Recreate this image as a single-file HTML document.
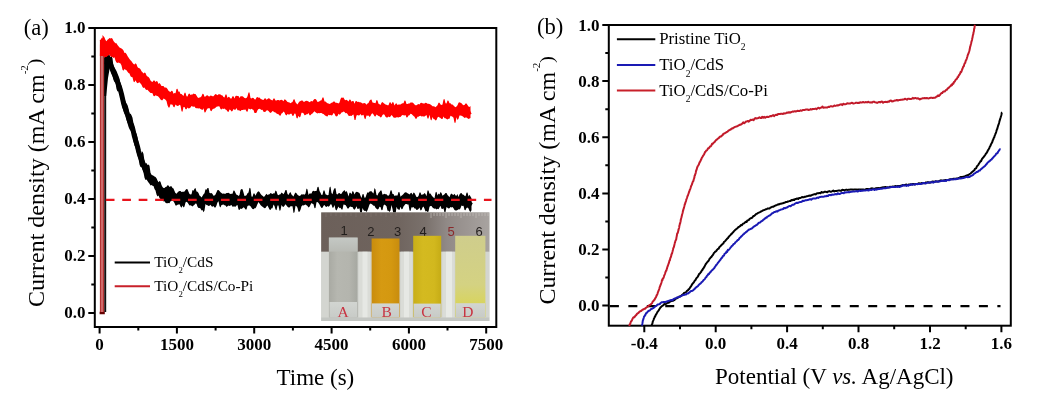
<!DOCTYPE html>
<html><head><meta charset="utf-8"><title>Figure</title>
<style>html,body{margin:0;padding:0;background:#fff;width:1051px;height:406px;overflow:hidden}svg{display:block}</style>
</head><body>
<svg width="1051" height="406" viewBox="0 0 1051 406">
<rect width="1051" height="406" fill="#fff"/>
<path d="M88.3 313.0H94.8 M88.3 256.0H94.8 M88.3 199.0H94.8 M88.3 142.0H94.8 M88.3 85.0H94.8 M88.3 28.0H94.8 M91.3 284.5H94.8 M91.3 227.5H94.8 M91.3 170.5H94.8 M91.3 113.5H94.8 M91.3 56.5H94.8 M99.6 327.0V333.5 M176.9 327.0V333.5 M254.2 327.0V333.5 M331.6 327.0V333.5 M408.9 327.0V333.5 M486.2 327.0V333.5 M138.3 327.0V330.5 M215.6 327.0V330.5 M292.9 327.0V330.5 M370.2 327.0V330.5 M447.5 327.0V330.5 M602.3 305.6H608.8 M602.3 249.5H608.8 M602.3 193.4H608.8 M602.3 137.2H608.8 M602.3 81.1H608.8 M602.3 25.0H608.8 M605.3 277.5H608.8 M605.3 221.4H608.8 M605.3 165.3H608.8 M605.3 109.2H608.8 M605.3 53.1H608.8 M644.3 325.7V332.2 M715.7 325.7V332.2 M787.1 325.7V332.2 M858.5 325.7V332.2 M930.0 325.7V332.2 M1001.4 325.7V332.2 M680.0 325.7V329.2 M751.4 325.7V329.2 M822.8 325.7V329.2 M894.2 325.7V329.2 M965.7 325.7V329.2" stroke="#000" stroke-width="2" fill="none"/>
<polygon points="106.5,57.3 107.5,53.9 108.5,53.1 109.5,55.1 110.5,58.7 111.5,55.6 112.5,58.6 113.5,66.5 114.5,67.6 115.5,69.2 116.5,71.1 117.5,73.6 118.5,76.1 119.5,78.7 120.5,83.5 121.5,86.3 122.5,90.4 123.5,95.2 124.5,98.9 125.5,101.6 126.5,103.5 127.5,104.9 128.5,108.6 129.5,114.6 130.5,113.6 131.5,115.3 132.5,117.7 133.5,123.6 134.5,128.8 135.5,132.7 136.5,133.6 137.5,136.9 138.5,142.9 139.5,147.5 140.5,151.1 141.5,153.6 142.5,151.2 143.5,154.1 144.5,161.1 145.5,163.7 146.5,163.0 147.5,164.9 148.5,164.5 149.5,165.7 150.5,172.8 151.5,174.7 152.5,175.3 153.5,175.7 154.5,176.5 155.5,176.9 156.5,178.3 157.5,180.4 158.5,182.3 159.5,181.1 160.5,181.8 161.5,185.0 162.5,187.1 163.5,188.0 164.5,188.0 165.5,186.9 166.5,186.8 167.5,185.3 168.5,185.4 169.5,186.9 170.5,186.3 171.5,186.2 172.5,187.9 173.5,188.6 174.5,191.1 175.5,193.3 176.5,193.7 177.5,192.6 178.5,191.5 179.5,191.0 180.5,191.1 181.5,192.0 182.5,191.7 183.5,191.8 184.5,191.5 185.5,190.1 186.5,189.1 187.5,189.2 188.5,191.7 189.5,194.0 190.5,194.4 191.5,194.3 192.5,190.0 193.5,190.7 194.5,188.8 195.5,188.1 196.5,191.4 197.5,191.8 198.5,193.0 199.5,195.5 200.5,196.2 201.5,197.4 202.5,196.1 203.5,194.3 204.5,193.3 205.5,189.3 206.5,189.8 207.5,188.1 208.5,187.9 209.5,193.1 210.5,193.2 211.5,193.1 212.5,194.0 213.5,195.7 214.5,195.6 215.5,194.4 216.5,192.3 217.5,190.0 218.5,190.1 219.5,190.9 220.5,192.2 221.5,193.0 222.5,193.7 223.5,193.6 224.5,193.7 225.5,193.8 226.5,193.1 227.5,192.9 228.5,192.8 229.5,193.4 230.5,194.1 231.5,193.7 232.5,193.8 233.5,190.4 234.5,190.7 235.5,193.0 236.5,194.8 237.5,194.9 238.5,195.9 239.5,194.9 240.5,190.0 241.5,189.1 242.5,189.2 243.5,192.6 244.5,196.1 245.5,195.7 246.5,195.3 247.5,193.3 248.5,192.5 249.5,187.7 250.5,188.4 251.5,196.4 252.5,196.7 253.5,193.6 254.5,193.6 255.5,195.7 256.5,193.5 257.5,191.9 258.5,191.3 259.5,191.9 260.5,193.7 261.5,195.0 262.5,195.8 263.5,196.7 264.5,196.5 265.5,195.0 266.5,193.8 267.5,194.9 268.5,194.5 269.5,194.2 270.5,193.0 271.5,193.5 272.5,194.1 273.5,193.2 274.5,193.5 275.5,190.5 276.5,191.3 277.5,194.5 278.5,195.2 279.5,194.4 280.5,194.3 281.5,192.6 282.5,193.2 283.5,194.2 284.5,192.6 285.5,189.9 286.5,189.9 287.5,193.9 288.5,195.1 289.5,193.0 290.5,192.1 291.5,194.4 292.5,195.5 293.5,196.6 294.5,194.0 295.5,192.6 296.5,193.2 297.5,194.8 298.5,195.5 299.5,196.0 300.5,195.4 301.5,194.3 302.5,194.6 303.5,194.2 304.5,194.8 305.5,193.5 306.5,188.6 307.5,189.6 308.5,194.9 309.5,193.6 310.5,193.4 311.5,193.5 312.5,191.2 313.5,190.8 314.5,191.3 315.5,191.0 316.5,191.0 317.5,187.0 318.5,186.8 319.5,190.9 320.5,192.8 321.5,194.9 322.5,194.8 323.5,190.4 324.5,190.4 325.5,194.3 326.5,194.8 327.5,195.2 328.5,195.0 329.5,187.6 330.5,186.5 331.5,192.9 332.5,194.2 333.5,190.3 334.5,188.2 335.5,188.3 336.5,194.1 337.5,194.4 338.5,193.3 339.5,192.9 340.5,194.1 341.5,193.8 342.5,192.0 343.5,191.0 344.5,190.1 345.5,191.9 346.5,191.1 347.5,192.9 348.5,196.5 349.5,192.8 350.5,192.7 351.5,194.3 352.5,191.1 353.5,191.8 354.5,194.4 355.5,192.5 356.5,191.7 357.5,192.1 358.5,192.5 359.5,192.9 360.5,195.8 361.5,197.9 362.5,194.2 363.5,193.9 364.5,197.8 365.5,197.5 366.5,194.5 367.5,192.2 368.5,192.7 369.5,191.5 370.5,191.2 371.5,191.2 372.5,192.4 373.5,193.4 374.5,188.1 375.5,189.6 376.5,195.1 377.5,195.6 378.5,193.0 379.5,191.9 380.5,190.6 381.5,190.4 382.5,194.7 383.5,194.2 384.5,193.8 385.5,194.3 386.5,194.3 387.5,195.5 388.5,195.8 389.5,194.5 390.5,190.5 391.5,190.3 392.5,193.9 393.5,194.1 394.5,196.0 395.5,195.5 396.5,195.6 397.5,195.6 398.5,191.9 399.5,192.2 400.5,196.8 401.5,195.7 402.5,194.9 403.5,193.9 404.5,192.7 405.5,192.3 406.5,192.4 407.5,193.3 408.5,193.7 409.5,194.6 410.5,193.3 411.5,192.8 412.5,194.7 413.5,192.6 414.5,193.0 415.5,195.1 416.5,197.1 417.5,196.9 418.5,195.9 419.5,192.5 420.5,192.4 421.5,195.1 422.5,194.6 423.5,194.3 424.5,192.9 425.5,194.1 426.5,196.3 427.5,190.6 428.5,190.4 429.5,193.8 430.5,193.6 431.5,195.2 432.5,196.6 433.5,197.4 434.5,198.3 435.5,192.4 436.5,191.7 437.5,195.4 438.5,193.5 439.5,194.4 440.5,192.0 441.5,193.1 442.5,195.7 443.5,194.9 444.5,194.3 445.5,193.1 446.5,193.0 447.5,195.1 448.5,195.9 449.5,197.3 450.5,194.5 451.5,193.6 452.5,194.5 453.5,194.9 454.5,193.7 455.5,195.6 456.5,195.7 457.5,194.1 458.5,197.0 459.5,194.5 460.5,193.3 461.5,193.1 462.5,194.5 463.5,194.7 464.5,195.7 465.5,196.2 466.5,192.8 467.5,192.6 468.5,196.6 469.5,194.8 470.5,196.4 471.5,198.3 471.5,210.2 470.5,212.1 469.5,211.0 468.5,208.6 467.5,207.4 466.5,207.9 465.5,210.3 464.5,210.1 463.5,205.8 462.5,205.9 461.5,205.6 460.5,208.2 459.5,209.4 458.5,209.2 457.5,210.1 456.5,210.6 455.5,210.4 454.5,210.0 453.5,208.2 452.5,206.9 451.5,207.6 450.5,207.0 449.5,208.3 448.5,208.5 447.5,207.8 446.5,207.1 445.5,212.0 444.5,212.6 443.5,208.2 442.5,209.0 441.5,208.7 440.5,205.8 439.5,207.6 438.5,209.2 437.5,208.7 436.5,209.6 435.5,208.6 434.5,208.7 433.5,208.2 432.5,207.4 431.5,206.0 430.5,206.1 429.5,206.8 428.5,211.6 427.5,212.0 426.5,210.9 425.5,211.5 424.5,208.8 423.5,206.6 422.5,207.4 421.5,209.9 420.5,210.5 419.5,207.4 418.5,209.0 417.5,209.8 416.5,209.9 415.5,208.6 414.5,208.4 413.5,207.0 412.5,207.4 411.5,207.2 410.5,210.9 409.5,210.6 408.5,204.4 407.5,204.4 406.5,203.9 405.5,204.1 404.5,205.2 403.5,206.5 402.5,208.9 401.5,209.2 400.5,206.8 399.5,209.9 398.5,209.6 397.5,208.9 396.5,206.8 395.5,215.1 394.5,215.5 393.5,214.4 392.5,208.9 391.5,205.1 390.5,210.6 389.5,211.9 388.5,210.8 387.5,210.8 386.5,206.2 385.5,205.3 384.5,204.5 383.5,205.5 382.5,210.0 381.5,210.2 380.5,207.1 379.5,206.7 378.5,209.0 377.5,209.4 376.5,208.8 375.5,207.8 374.5,205.8 373.5,205.7 372.5,204.8 371.5,203.9 370.5,203.6 369.5,204.6 368.5,207.5 367.5,210.2 366.5,211.9 365.5,210.8 364.5,210.9 363.5,210.0 362.5,208.0 361.5,215.2 360.5,214.4 359.5,208.2 358.5,208.7 357.5,209.0 356.5,206.3 355.5,208.6 354.5,209.8 353.5,208.9 352.5,207.0 351.5,207.1 350.5,206.6 349.5,207.0 348.5,208.6 347.5,208.6 346.5,206.6 345.5,204.9 344.5,204.7 343.5,204.5 342.5,209.4 341.5,209.5 340.5,207.7 339.5,208.3 338.5,206.5 337.5,208.4 336.5,210.6 335.5,209.5 334.5,205.1 333.5,207.6 332.5,207.7 331.5,204.5 330.5,204.3 329.5,206.0 328.5,206.7 327.5,205.9 326.5,207.1 325.5,206.5 324.5,204.9 323.5,205.7 322.5,207.7 321.5,207.9 320.5,206.5 319.5,204.5 318.5,203.0 317.5,202.1 316.5,202.3 315.5,207.9 314.5,208.3 313.5,204.3 312.5,203.7 311.5,203.1 310.5,204.7 309.5,206.7 308.5,207.5 307.5,206.0 306.5,205.2 305.5,204.4 304.5,205.1 303.5,205.5 302.5,205.3 301.5,206.3 300.5,209.7 299.5,211.7 298.5,211.7 297.5,207.8 296.5,206.3 295.5,205.8 294.5,212.3 293.5,212.9 292.5,206.3 291.5,206.2 290.5,206.2 289.5,207.4 288.5,207.5 287.5,206.7 286.5,205.4 285.5,204.2 284.5,205.7 283.5,206.9 282.5,206.6 281.5,204.9 280.5,210.3 279.5,210.8 278.5,205.4 277.5,205.5 276.5,210.3 275.5,209.4 274.5,206.0 273.5,204.4 272.5,208.3 271.5,208.3 270.5,209.9 269.5,209.6 268.5,207.6 267.5,205.4 266.5,206.5 265.5,207.9 264.5,208.3 263.5,207.4 262.5,206.7 261.5,206.0 260.5,204.9 259.5,203.5 258.5,201.9 257.5,204.1 256.5,206.5 255.5,208.2 254.5,208.3 253.5,209.2 252.5,209.1 251.5,207.8 250.5,206.2 249.5,205.5 248.5,205.6 247.5,205.9 246.5,209.5 245.5,209.5 244.5,207.9 243.5,207.2 242.5,208.2 241.5,208.9 240.5,208.5 239.5,209.9 238.5,209.6 237.5,205.1 236.5,205.6 235.5,206.7 234.5,206.4 233.5,206.6 232.5,206.7 231.5,205.1 230.5,205.6 229.5,206.0 228.5,205.5 227.5,206.3 226.5,207.0 225.5,205.5 224.5,205.3 223.5,204.4 222.5,204.7 221.5,205.1 220.5,207.4 219.5,206.2 218.5,201.2 217.5,202.3 216.5,205.5 215.5,207.4 214.5,207.6 213.5,206.1 212.5,206.7 211.5,206.2 210.5,204.7 209.5,205.7 208.5,206.1 207.5,205.3 206.5,204.9 205.5,204.1 204.5,210.6 203.5,212.3 202.5,210.1 201.5,210.5 200.5,208.4 199.5,208.1 198.5,207.9 197.5,206.8 196.5,203.8 195.5,203.5 194.5,204.7 193.5,205.5 192.5,206.5 191.5,205.7 190.5,205.2 189.5,205.4 188.5,204.0 187.5,202.5 186.5,201.8 185.5,202.6 184.5,206.6 183.5,207.4 182.5,205.4 181.5,207.7 180.5,206.5 179.5,204.3 178.5,204.4 177.5,204.7 176.5,205.4 175.5,205.4 174.5,203.1 173.5,201.6 172.5,199.8 171.5,201.1 170.5,201.2 169.5,203.3 168.5,203.0 167.5,203.3 166.5,203.3 165.5,202.7 164.5,201.3 163.5,201.5 162.5,199.5 161.5,199.7 160.5,199.0 159.5,198.0 158.5,195.4 157.5,196.4 156.5,194.6 155.5,190.5 154.5,189.0 153.5,186.1 152.5,185.7 151.5,185.0 150.5,185.4 149.5,183.7 148.5,182.4 147.5,181.0 146.5,179.5 145.5,180.0 144.5,177.8 143.5,172.4 142.5,169.4 141.5,166.9 140.5,167.1 139.5,164.5 138.5,158.8 137.5,155.3 136.5,151.4 135.5,147.2 134.5,145.6 133.5,141.3 132.5,134.3 131.5,132.5 130.5,130.5 129.5,129.3 128.5,126.8 127.5,123.3 126.5,119.7 125.5,115.7 124.5,113.9 123.5,111.6 122.5,107.3 121.5,101.9 120.5,97.9 119.5,93.6 118.5,90.7 117.5,91.5 116.5,88.9 115.5,83.0 114.5,82.0 113.5,80.1 112.5,75.9 111.5,72.6 110.5,71.1 109.5,68.8 108.5,64.6 107.5,67.5 106.5,72.0" fill="#000"/>
<polyline points="106.5,64.6 107.5,60.7 108.5,59.0 109.5,62.0 110.5,64.4 111.5,66.6 112.5,69.8 113.5,72.7 114.5,74.8 115.5,76.8 116.5,79.2 117.5,81.8 118.5,84.3 119.5,87.1 120.5,90.4 121.5,94.1 122.5,98.5 123.5,103.0 124.5,106.6 125.5,109.0 126.5,111.2 127.5,114.4 128.5,118.0 129.5,120.9 130.5,123.1 131.5,124.9 132.5,127.8 133.5,132.1 134.5,136.6 135.5,140.1 136.5,143.1 137.5,146.7 138.5,150.8 139.5,154.5 140.5,157.4 141.5,159.8 142.5,162.1 143.5,165.1 144.5,168.0 145.5,170.4 146.5,172.4 147.5,174.2 148.5,175.7 149.5,177.0 150.5,178.6 151.5,180.0 152.5,180.7 153.5,181.1 154.5,181.8 155.5,183.1 156.5,184.7 157.5,186.5 158.5,188.1 159.5,188.9 160.5,189.7 161.5,191.1 162.5,192.7 163.5,193.8 164.5,193.7 165.5,193.3 166.5,193.0 167.5,193.0 168.5,193.2 169.5,193.5 170.5,193.8 171.5,193.6 172.5,193.7 173.5,194.9 174.5,197.1 175.5,198.7 176.5,199.0 177.5,198.3 178.5,197.5 179.5,197.4 180.5,198.0 181.5,199.1 182.5,200.2 183.5,200.3 184.5,198.9 185.5,197.2 186.5,196.2 187.5,196.6 188.5,198.0 189.5,199.1 190.5,199.2 191.5,199.1 192.5,199.7 193.5,200.1 194.5,199.5 195.5,198.6 196.5,198.8 197.5,199.9 198.5,201.1 199.5,202.0 200.5,202.5 201.5,202.5 202.5,201.7 203.5,200.1 204.5,198.7 205.5,198.5 206.5,199.2 207.5,199.7 208.5,199.6 209.5,199.3 210.5,199.6 211.5,200.5 212.5,201.1 213.5,201.2 214.5,201.3 215.5,200.7 216.5,198.8 217.5,197.1 218.5,196.7 219.5,197.4 220.5,198.5 221.5,199.5 222.5,199.8 223.5,199.5 224.5,199.6 225.5,199.8 226.5,199.4 227.5,198.8 228.5,198.9 229.5,199.4 230.5,199.6 231.5,199.3 232.5,198.8 233.5,198.8 234.5,199.3 235.5,199.7 236.5,199.7 237.5,200.1 238.5,201.2 239.5,201.9 240.5,201.7 241.5,200.8 242.5,200.3 243.5,200.4 244.5,201.0 245.5,201.7 246.5,201.5 247.5,200.4 248.5,199.3 249.5,199.2 250.5,200.2 251.5,201.3 252.5,201.8 253.5,202.1 254.5,202.2 255.5,201.5 256.5,199.7 257.5,197.6 258.5,197.0 259.5,198.1 260.5,199.5 261.5,200.6 262.5,201.3 263.5,202.1 264.5,202.5 265.5,201.7 266.5,200.5 267.5,199.7 268.5,199.6 269.5,199.5 270.5,199.7 271.5,200.0 272.5,199.9 273.5,199.2 274.5,198.6 275.5,199.0 276.5,199.8 277.5,200.5 278.5,200.4 279.5,199.7 280.5,199.4 281.5,199.5 282.5,200.0 283.5,199.7 284.5,198.3 285.5,197.2 286.5,197.9 287.5,199.9 288.5,201.3 289.5,200.9 290.5,199.9 291.5,200.1 292.5,201.4 293.5,202.0 294.5,200.8 295.5,199.1 296.5,199.4 297.5,201.4 298.5,203.2 299.5,203.4 300.5,202.1 301.5,200.9 302.5,200.2 303.5,199.6 304.5,199.3 305.5,199.5 306.5,200.3 307.5,201.1 308.5,200.9 309.5,199.8 310.5,198.7 311.5,198.1 312.5,198.1 313.5,197.8 314.5,197.3 315.5,197.0 316.5,196.8 317.5,196.4 318.5,196.3 319.5,197.3 320.5,199.4 321.5,201.1 322.5,200.9 323.5,199.8 324.5,199.4 325.5,199.8 326.5,200.4 327.5,200.9 328.5,200.8 329.5,199.8 330.5,198.4 331.5,198.4 332.5,199.2 333.5,199.2 334.5,198.6 335.5,198.9 336.5,199.9 337.5,200.5 338.5,200.7 339.5,200.4 340.5,199.7 341.5,199.0 342.5,199.0 343.5,199.2 344.5,198.5 345.5,198.1 346.5,199.3 347.5,200.9 348.5,201.3 349.5,201.1 350.5,201.0 351.5,201.5 352.5,202.1 353.5,202.6 354.5,202.2 355.5,200.9 356.5,200.0 357.5,199.2 358.5,198.9 359.5,199.9 360.5,202.1 361.5,203.5 362.5,203.0 363.5,202.4 364.5,203.1 365.5,203.8 366.5,203.1 367.5,201.1 368.5,199.3 369.5,197.8 370.5,197.2 371.5,197.5 372.5,198.4 373.5,199.4 374.5,200.3 375.5,201.9 376.5,203.2 377.5,203.4 378.5,202.7 379.5,201.5 380.5,200.9 381.5,200.6 382.5,200.3 383.5,199.8 384.5,199.1 385.5,199.7 386.5,201.0 387.5,201.7 388.5,201.3 389.5,200.1 390.5,199.1 391.5,198.9 392.5,200.4 393.5,202.9 394.5,204.0 395.5,203.0 396.5,201.6 397.5,201.2 398.5,201.7 399.5,202.0 400.5,202.1 401.5,202.0 402.5,201.4 403.5,200.4 404.5,199.3 405.5,198.6 406.5,198.6 407.5,198.9 408.5,199.4 409.5,200.1 410.5,200.6 411.5,200.4 412.5,199.6 413.5,199.2 414.5,200.5 415.5,202.5 416.5,203.6 417.5,203.5 418.5,202.6 419.5,201.9 420.5,201.8 421.5,201.0 422.5,200.2 423.5,201.0 424.5,202.6 425.5,203.3 426.5,202.2 427.5,201.2 428.5,200.9 429.5,200.3 430.5,199.9 431.5,200.3 432.5,201.6 433.5,202.7 434.5,203.5 435.5,203.9 436.5,203.6 437.5,202.3 438.5,200.3 439.5,199.4 440.5,200.0 441.5,201.1 442.5,201.8 443.5,201.6 444.5,201.0 445.5,200.5 446.5,200.3 447.5,200.7 448.5,201.6 449.5,202.3 450.5,202.2 451.5,201.4 452.5,201.0 453.5,201.5 454.5,203.0 455.5,204.7 456.5,205.5 457.5,204.6 458.5,202.7 459.5,201.2 460.5,200.2 461.5,199.8 462.5,199.9 463.5,200.6 464.5,201.5 465.5,202.0 466.5,201.7 467.5,201.3 468.5,202.0 469.5,203.4 470.5,204.7 471.5,205.3" fill="none" stroke="#000" stroke-width="5" stroke-linejoin="round"/>
<path d="M105.2 58V312" stroke="#111" stroke-width="2"/>
<path d="M104.2 96L104.2 57L107.5 53.5L111.5 58L108 78L106.2 96Z" fill="#000"/>
<polygon points="102.5,34.9 103.5,36.2 104.5,37.6 105.5,40.0 106.5,41.2 107.5,39.8 108.5,38.9 109.5,38.1 110.5,38.6 111.5,38.1 112.5,38.7 113.5,41.1 114.5,42.2 115.5,43.3 116.5,43.2 117.5,44.9 118.5,46.3 119.5,47.4 120.5,47.9 121.5,48.6 122.5,49.3 123.5,50.6 124.5,53.1 125.5,52.8 126.5,53.9 127.5,56.0 128.5,57.6 129.5,59.0 130.5,60.3 131.5,61.2 132.5,62.8 133.5,63.9 134.5,64.5 135.5,63.2 136.5,64.2 137.5,66.9 138.5,68.0 139.5,68.2 140.5,69.2 141.5,71.2 142.5,72.2 143.5,73.4 144.5,72.5 145.5,73.1 146.5,75.5 147.5,76.4 148.5,77.0 149.5,78.2 150.5,80.5 151.5,81.4 152.5,82.0 153.5,80.4 154.5,80.6 155.5,82.0 156.5,80.9 157.5,81.4 158.5,83.9 159.5,83.0 160.5,84.2 161.5,86.1 162.5,86.0 163.5,85.9 164.5,87.5 165.5,87.4 166.5,87.8 167.5,89.1 168.5,90.8 169.5,91.5 170.5,92.1 171.5,90.8 172.5,91.1 173.5,93.8 174.5,93.0 175.5,93.2 176.5,89.0 177.5,88.8 178.5,91.7 179.5,91.6 180.5,93.9 181.5,94.1 182.5,94.9 183.5,96.1 184.5,92.7 185.5,92.7 186.5,96.2 187.5,96.4 188.5,93.9 189.5,93.4 190.5,95.1 191.5,94.4 192.5,94.4 193.5,93.4 194.5,93.9 195.5,94.0 196.5,95.5 197.5,97.2 198.5,97.9 199.5,97.6 200.5,97.2 201.5,96.3 202.5,93.8 203.5,94.0 204.5,96.8 205.5,96.6 206.5,95.6 207.5,95.3 208.5,96.2 209.5,96.6 210.5,95.4 211.5,95.8 212.5,96.2 213.5,96.3 214.5,94.9 215.5,94.1 216.5,94.6 217.5,95.3 218.5,94.3 219.5,94.2 220.5,94.6 221.5,95.2 222.5,95.5 223.5,97.1 224.5,97.5 225.5,94.4 226.5,94.5 227.5,97.9 228.5,96.8 229.5,97.2 230.5,98.5 231.5,98.5 232.5,96.3 233.5,96.3 234.5,98.4 235.5,96.1 236.5,95.7 237.5,96.1 238.5,96.1 239.5,97.9 240.5,96.3 241.5,96.2 242.5,96.2 243.5,97.1 244.5,98.0 245.5,98.2 246.5,97.9 247.5,96.3 248.5,92.6 249.5,92.6 250.5,98.0 251.5,98.4 252.5,97.7 253.5,98.1 254.5,99.2 255.5,99.5 256.5,97.5 257.5,97.1 258.5,97.7 259.5,97.6 260.5,98.8 261.5,99.2 262.5,99.7 263.5,100.1 264.5,98.5 265.5,98.3 266.5,99.7 267.5,99.1 268.5,98.2 269.5,98.5 270.5,99.5 271.5,100.1 272.5,100.6 273.5,98.6 274.5,98.6 275.5,100.4 276.5,100.5 277.5,99.9 278.5,99.9 279.5,100.4 280.5,99.9 281.5,99.7 282.5,100.2 283.5,101.3 284.5,99.3 285.5,99.7 286.5,100.7 287.5,101.9 288.5,102.2 289.5,102.4 290.5,103.3 291.5,102.5 292.5,102.1 293.5,99.4 294.5,99.3 295.5,102.2 296.5,103.4 297.5,104.5 298.5,102.7 299.5,101.6 300.5,101.0 301.5,100.5 302.5,100.6 303.5,101.7 304.5,101.8 305.5,101.0 306.5,100.7 307.5,101.1 308.5,101.6 309.5,102.2 310.5,101.6 311.5,101.1 312.5,101.5 313.5,100.0 314.5,99.1 315.5,99.1 316.5,100.0 317.5,102.1 318.5,101.8 319.5,101.2 320.5,100.6 321.5,100.3 322.5,97.5 323.5,97.6 324.5,101.4 325.5,101.5 326.5,102.4 327.5,103.2 328.5,103.4 329.5,103.9 330.5,103.4 331.5,102.7 332.5,102.4 333.5,101.5 334.5,101.6 335.5,102.7 336.5,102.7 337.5,103.1 338.5,103.5 339.5,102.5 340.5,99.0 341.5,97.6 342.5,97.7 343.5,97.6 344.5,99.4 345.5,100.3 346.5,99.7 347.5,100.5 348.5,101.6 349.5,99.4 350.5,99.7 351.5,101.8 352.5,101.0 353.5,101.0 354.5,103.8 355.5,101.3 356.5,101.0 357.5,102.0 358.5,101.8 359.5,102.2 360.5,102.2 361.5,102.8 362.5,103.4 363.5,103.2 364.5,102.9 365.5,103.6 366.5,104.8 367.5,103.5 368.5,103.0 369.5,100.8 370.5,99.7 371.5,99.5 372.5,102.4 373.5,102.8 374.5,103.0 375.5,103.3 376.5,100.0 377.5,100.5 378.5,103.7 379.5,104.3 380.5,104.9 381.5,102.8 382.5,102.1 383.5,103.0 384.5,103.7 385.5,104.4 386.5,104.7 387.5,105.3 388.5,105.2 389.5,102.5 390.5,102.2 391.5,104.2 392.5,102.1 393.5,102.6 394.5,105.4 395.5,103.8 396.5,103.3 397.5,104.9 398.5,104.4 399.5,104.6 400.5,104.6 401.5,103.8 402.5,103.3 403.5,103.2 404.5,100.4 405.5,100.7 406.5,104.1 407.5,103.9 408.5,103.4 409.5,103.4 410.5,102.6 411.5,102.6 412.5,102.6 413.5,103.2 414.5,104.4 415.5,105.3 416.5,105.3 417.5,104.6 418.5,104.1 419.5,104.4 420.5,102.9 421.5,102.8 422.5,103.3 423.5,103.6 424.5,103.6 425.5,102.8 426.5,103.0 427.5,103.7 428.5,103.7 429.5,104.0 430.5,104.4 431.5,105.2 432.5,106.3 433.5,106.2 434.5,106.6 435.5,107.2 436.5,106.3 437.5,105.2 438.5,102.7 439.5,102.7 440.5,104.5 441.5,105.0 442.5,104.5 443.5,99.5 444.5,99.1 445.5,103.3 446.5,103.6 447.5,100.5 448.5,100.8 449.5,103.2 450.5,103.2 451.5,104.4 452.5,104.6 453.5,105.6 454.5,106.4 455.5,107.3 456.5,106.4 457.5,105.2 458.5,102.8 459.5,102.3 460.5,102.8 461.5,103.3 462.5,104.4 463.5,105.3 464.5,104.9 465.5,103.5 466.5,103.4 467.5,104.9 468.5,106.5 469.5,107.0 470.5,105.9 470.5,118.1 469.5,118.5 468.5,119.1 467.5,118.2 466.5,117.6 465.5,117.5 464.5,118.1 463.5,117.0 462.5,116.3 461.5,115.7 460.5,115.6 459.5,115.5 458.5,118.7 457.5,120.0 456.5,117.2 455.5,122.8 454.5,122.8 453.5,117.7 452.5,116.7 451.5,116.2 450.5,115.7 449.5,118.8 448.5,118.8 447.5,119.4 446.5,119.0 445.5,118.2 444.5,118.3 443.5,116.4 442.5,119.0 441.5,119.0 440.5,118.1 439.5,117.4 438.5,116.7 437.5,117.6 436.5,119.9 435.5,120.4 434.5,119.3 433.5,119.1 432.5,117.0 431.5,120.5 430.5,119.6 429.5,114.7 428.5,118.6 427.5,118.4 426.5,114.9 425.5,115.8 424.5,116.4 423.5,116.5 422.5,116.3 421.5,116.4 420.5,115.7 419.5,116.1 418.5,116.7 417.5,116.8 416.5,118.7 415.5,118.8 414.5,116.7 413.5,116.1 412.5,114.9 411.5,114.0 410.5,113.8 409.5,115.2 408.5,115.6 407.5,117.3 406.5,117.4 405.5,114.9 404.5,115.6 403.5,115.3 402.5,114.9 401.5,115.7 400.5,116.9 399.5,116.9 398.5,117.6 397.5,117.2 396.5,117.2 395.5,117.7 394.5,117.7 393.5,117.6 392.5,116.1 391.5,115.1 390.5,116.6 389.5,117.2 388.5,116.6 387.5,117.6 386.5,117.6 385.5,116.7 384.5,114.8 383.5,114.3 382.5,115.1 381.5,117.1 380.5,117.5 379.5,116.2 378.5,115.9 377.5,115.3 376.5,114.4 375.5,116.5 374.5,116.3 373.5,114.6 372.5,113.3 371.5,114.1 370.5,116.0 369.5,117.1 368.5,115.4 367.5,115.8 366.5,115.6 365.5,119.3 364.5,118.4 363.5,114.8 362.5,115.2 361.5,115.4 360.5,114.0 359.5,115.2 358.5,115.4 357.5,115.1 356.5,115.4 355.5,120.1 354.5,120.0 353.5,114.5 352.5,114.9 351.5,116.0 350.5,115.7 349.5,115.9 348.5,115.7 347.5,114.0 346.5,113.0 345.5,113.3 344.5,112.0 343.5,111.6 342.5,112.3 341.5,112.6 340.5,114.1 339.5,114.7 338.5,113.7 337.5,116.0 336.5,116.5 335.5,116.1 334.5,113.7 333.5,112.9 332.5,114.9 331.5,115.4 330.5,115.0 329.5,115.3 328.5,114.7 327.5,116.6 326.5,116.3 325.5,115.8 324.5,114.9 323.5,114.1 322.5,113.7 321.5,113.1 320.5,113.1 319.5,113.2 318.5,113.1 317.5,113.5 316.5,112.9 315.5,112.3 314.5,111.3 313.5,112.3 312.5,113.4 311.5,113.9 310.5,115.2 309.5,115.2 308.5,113.0 307.5,114.2 306.5,114.3 305.5,115.0 304.5,115.3 303.5,113.3 302.5,112.8 301.5,112.8 300.5,116.4 299.5,117.6 298.5,115.7 297.5,118.5 296.5,118.0 295.5,113.8 294.5,113.5 293.5,115.7 292.5,116.1 291.5,113.7 290.5,113.7 289.5,114.5 288.5,114.4 287.5,113.9 286.5,115.4 285.5,114.7 284.5,112.6 283.5,111.6 282.5,113.1 281.5,113.6 280.5,115.8 279.5,115.5 278.5,114.3 277.5,113.9 276.5,113.4 275.5,112.5 274.5,112.3 273.5,111.5 272.5,110.9 271.5,112.2 270.5,112.9 269.5,112.3 268.5,111.0 267.5,110.3 266.5,110.6 265.5,111.8 264.5,111.9 263.5,111.8 262.5,109.8 261.5,109.9 260.5,109.3 259.5,108.7 258.5,109.1 257.5,110.3 256.5,112.7 255.5,113.0 254.5,113.1 253.5,110.1 252.5,109.5 251.5,108.8 250.5,109.4 249.5,109.1 248.5,108.6 247.5,111.7 246.5,111.6 245.5,109.4 244.5,109.8 243.5,109.8 242.5,109.9 241.5,109.9 240.5,111.2 239.5,110.4 238.5,110.3 237.5,110.2 236.5,108.1 235.5,109.8 234.5,109.8 233.5,109.1 232.5,111.0 231.5,111.6 230.5,110.0 229.5,109.6 228.5,111.9 227.5,111.5 226.5,109.9 225.5,109.6 224.5,108.6 223.5,109.1 222.5,108.6 221.5,109.4 220.5,109.1 219.5,106.5 218.5,106.2 217.5,106.4 216.5,106.7 215.5,107.7 214.5,108.4 213.5,108.8 212.5,109.3 211.5,111.2 210.5,110.8 209.5,107.9 208.5,108.3 207.5,108.6 206.5,109.9 205.5,112.2 204.5,112.4 203.5,108.3 202.5,109.9 201.5,109.6 200.5,109.0 199.5,108.2 198.5,108.5 197.5,108.3 196.5,108.3 195.5,108.1 194.5,106.6 193.5,106.7 192.5,106.5 191.5,106.0 190.5,107.5 189.5,108.3 188.5,108.5 187.5,107.5 186.5,109.3 185.5,109.2 184.5,106.9 183.5,106.9 182.5,111.8 181.5,111.2 180.5,105.5 179.5,104.8 178.5,105.8 177.5,106.0 176.5,105.4 175.5,104.6 174.5,107.3 173.5,107.1 172.5,104.7 171.5,104.6 170.5,104.3 169.5,107.6 168.5,107.4 167.5,105.3 166.5,101.1 165.5,99.8 164.5,99.0 163.5,98.6 162.5,100.3 161.5,100.3 160.5,99.5 159.5,98.0 158.5,96.8 157.5,96.0 156.5,95.7 155.5,95.2 154.5,96.3 153.5,96.1 152.5,93.3 151.5,92.9 150.5,93.0 149.5,92.0 148.5,90.9 147.5,89.7 146.5,89.9 145.5,89.2 144.5,87.6 143.5,87.9 142.5,87.0 141.5,84.7 140.5,83.4 139.5,82.3 138.5,82.8 137.5,83.2 136.5,82.2 135.5,80.3 134.5,82.2 133.5,81.6 132.5,77.2 131.5,77.0 130.5,76.2 129.5,73.5 128.5,73.0 127.5,71.7 126.5,70.3 125.5,69.8 124.5,68.9 123.5,70.8 122.5,69.8 121.5,65.5 120.5,63.5 119.5,63.0 118.5,62.6 117.5,63.1 116.5,62.5 115.5,60.8 114.5,57.2 113.5,58.1 112.5,57.0 111.5,56.8 110.5,56.4 109.5,54.5 108.5,55.4 107.5,55.9 106.5,56.9 105.5,56.9 104.5,57.4 103.5,55.4 102.5,51.6" fill="#f00"/>
<polyline points="102.5,43.1 103.5,44.4 104.5,46.4 105.5,48.3 106.5,48.9 107.5,47.8 108.5,46.7 109.5,45.8 110.5,46.5 111.5,47.0 112.5,47.6 113.5,48.6 114.5,49.8 115.5,51.4 116.5,53.1 117.5,54.5 118.5,55.3 119.5,55.8 120.5,56.5 121.5,57.5 122.5,58.7 123.5,59.8 124.5,60.6 125.5,61.4 126.5,62.6 127.5,64.1 128.5,65.5 129.5,66.7 130.5,67.7 131.5,68.6 132.5,69.4 133.5,70.1 134.5,70.7 135.5,71.5 136.5,72.5 137.5,73.5 138.5,74.6 139.5,75.7 140.5,76.7 141.5,78.0 142.5,79.3 143.5,80.4 144.5,81.0 145.5,81.6 146.5,82.2 147.5,83.2 148.5,84.3 149.5,85.3 150.5,86.4 151.5,87.2 152.5,87.8 153.5,88.2 154.5,88.4 155.5,88.6 156.5,89.0 157.5,89.6 158.5,90.6 159.5,91.8 160.5,92.8 161.5,93.3 162.5,93.4 163.5,93.3 164.5,93.4 165.5,94.1 166.5,95.3 167.5,96.6 168.5,97.6 169.5,98.0 170.5,98.1 171.5,98.2 172.5,98.6 173.5,99.1 174.5,99.4 175.5,99.6 176.5,99.6 177.5,99.4 178.5,99.3 179.5,99.3 180.5,99.8 181.5,100.5 182.5,101.3 183.5,101.6 184.5,101.7 185.5,101.7 186.5,101.8 187.5,101.9 188.5,101.8 189.5,101.5 190.5,100.8 191.5,100.1 192.5,99.7 193.5,99.8 194.5,100.6 195.5,102.0 196.5,103.2 197.5,103.5 198.5,103.4 199.5,103.2 200.5,103.0 201.5,103.1 202.5,103.4 203.5,103.5 204.5,103.4 205.5,103.2 206.5,102.9 207.5,102.6 208.5,102.4 209.5,102.5 210.5,102.8 211.5,103.2 212.5,103.5 213.5,103.6 214.5,103.2 215.5,102.4 216.5,101.7 217.5,101.3 218.5,101.2 219.5,101.5 220.5,101.8 221.5,102.2 222.5,102.5 223.5,103.0 224.5,103.3 225.5,103.4 226.5,103.7 227.5,104.1 228.5,104.5 229.5,104.7 230.5,104.4 231.5,103.8 232.5,103.4 233.5,103.4 234.5,103.5 235.5,103.5 236.5,103.1 237.5,102.7 238.5,102.7 239.5,103.3 240.5,104.0 241.5,104.6 242.5,104.6 243.5,104.1 244.5,103.6 245.5,103.3 246.5,103.3 247.5,103.3 248.5,103.2 249.5,103.1 250.5,103.3 251.5,103.7 252.5,104.0 253.5,104.3 254.5,104.6 255.5,104.6 256.5,104.6 257.5,104.2 258.5,103.7 259.5,103.4 260.5,103.8 261.5,104.4 262.5,104.8 263.5,105.0 264.5,105.0 265.5,104.8 266.5,104.6 267.5,104.4 268.5,104.4 269.5,104.8 270.5,105.3 271.5,105.8 272.5,105.8 273.5,105.7 274.5,105.6 275.5,105.7 276.5,105.9 277.5,106.1 278.5,106.6 279.5,107.1 280.5,107.4 281.5,107.4 282.5,106.8 283.5,106.4 284.5,106.4 285.5,106.9 286.5,107.5 287.5,108.0 288.5,108.3 289.5,108.4 290.5,108.6 291.5,108.5 292.5,108.2 293.5,107.9 294.5,107.9 295.5,108.3 296.5,109.1 297.5,109.8 298.5,109.7 299.5,108.8 300.5,107.7 301.5,106.8 302.5,106.7 303.5,107.1 304.5,107.2 305.5,106.8 306.5,106.3 307.5,106.3 308.5,106.6 309.5,107.2 310.5,107.5 311.5,107.1 312.5,106.6 313.5,106.1 314.5,105.9 315.5,106.1 316.5,106.6 317.5,107.2 318.5,107.6 319.5,107.5 320.5,107.0 321.5,106.5 322.5,106.4 323.5,106.7 324.5,107.2 325.5,107.9 326.5,108.7 327.5,109.1 328.5,109.3 329.5,109.1 330.5,108.6 331.5,108.0 332.5,107.6 333.5,107.5 334.5,107.7 335.5,108.1 336.5,108.6 337.5,108.9 338.5,108.8 339.5,108.3 340.5,107.5 341.5,106.2 342.5,105.0 343.5,104.5 344.5,105.3 345.5,106.5 346.5,107.6 347.5,108.1 348.5,108.2 349.5,108.3 350.5,108.7 351.5,109.1 352.5,109.2 353.5,109.3 354.5,109.5 355.5,109.6 356.5,109.5 357.5,109.1 358.5,108.8 359.5,108.7 360.5,108.7 361.5,108.6 362.5,108.4 363.5,108.3 364.5,108.6 365.5,109.4 366.5,110.1 367.5,110.5 368.5,110.3 369.5,109.4 370.5,108.5 371.5,108.1 372.5,108.1 373.5,108.2 374.5,108.4 375.5,108.6 376.5,108.9 377.5,109.5 378.5,110.1 379.5,110.5 380.5,110.5 381.5,110.0 382.5,109.3 383.5,109.0 384.5,109.3 385.5,110.2 386.5,111.0 387.5,111.3 388.5,111.0 389.5,110.4 390.5,109.9 391.5,109.7 392.5,110.0 393.5,110.5 394.5,110.8 395.5,110.6 396.5,110.1 397.5,109.9 398.5,110.1 399.5,110.5 400.5,110.5 401.5,110.0 402.5,109.4 403.5,109.2 404.5,109.5 405.5,109.7 406.5,109.8 407.5,109.6 408.5,109.2 409.5,108.8 410.5,108.6 411.5,108.7 412.5,109.1 413.5,109.8 414.5,110.5 415.5,110.8 416.5,110.8 417.5,110.5 418.5,110.1 419.5,109.7 420.5,109.8 421.5,110.4 422.5,110.9 423.5,111.1 424.5,110.7 425.5,110.0 426.5,109.2 427.5,108.9 428.5,109.0 429.5,109.4 430.5,110.1 431.5,111.0 432.5,111.7 433.5,112.2 434.5,112.4 435.5,112.3 436.5,111.7 437.5,110.8 438.5,110.0 439.5,109.9 440.5,110.5 441.5,111.0 442.5,110.9 443.5,110.3 444.5,109.7 445.5,109.6 446.5,110.1 447.5,110.5 448.5,110.7 449.5,110.7 450.5,110.6 451.5,110.7 452.5,110.9 453.5,111.5 454.5,112.2 455.5,112.3 456.5,111.7 457.5,110.7 458.5,109.5 459.5,108.7 460.5,108.8 461.5,109.5 462.5,110.2 463.5,110.4 464.5,110.1 465.5,109.6 466.5,109.8 467.5,110.7 468.5,111.8 469.5,112.1 470.5,111.6" fill="none" stroke="#f00" stroke-width="5" stroke-linejoin="round"/>
<path d="M99.6 313.0H104.8" stroke="#600" stroke-width="2.5"/>
<g>
<defs>
 <linearGradient id="rul" x1="0" x2="1" y1="0" y2="0">
  <stop offset="0" stop-color="#6c605a"/><stop offset="0.45" stop-color="#6f645e"/>
  <stop offset="0.62" stop-color="#7a716c"/><stop offset="0.75" stop-color="#918a87"/><stop offset="1" stop-color="#a8a3a0"/>
 </linearGradient>
 <linearGradient id="bg" x1="0" x2="0" y1="0" y2="1">
  <stop offset="0" stop-color="#c9cac4"/><stop offset="1" stop-color="#d6d8d3"/>
 </linearGradient>
 <linearGradient id="vA" x1="0" x2="1">
  <stop offset="0" stop-color="#a9aaa3"/><stop offset="0.3" stop-color="#b6b7b0"/><stop offset="0.7" stop-color="#b4b5ae"/><stop offset="1" stop-color="#a6a8a1"/>
 </linearGradient>
 <linearGradient id="vAt" x1="0" x2="0" y1="0" y2="1">
  <stop offset="0" stop-color="#c4c8c4"/><stop offset="1" stop-color="#b8bab4"/>
 </linearGradient>
 <linearGradient id="vB" x1="0" x2="1">
  <stop offset="0" stop-color="#c98c0e"/><stop offset="0.35" stop-color="#d69a12"/><stop offset="0.7" stop-color="#d49810"/><stop offset="1" stop-color="#c88c0e"/>
 </linearGradient>
 <linearGradient id="vC" x1="0" x2="1">
  <stop offset="0" stop-color="#c8ae18"/><stop offset="0.35" stop-color="#d4ba20"/><stop offset="0.75" stop-color="#d2b81e"/><stop offset="1" stop-color="#c6ac16"/>
 </linearGradient>
 <linearGradient id="vD" x1="0" x2="0" y1="0" y2="1">
  <stop offset="0" stop-color="#cfcd8c"/><stop offset="0.6" stop-color="#d4d282"/><stop offset="0.85" stop-color="#d8d45c"/><stop offset="1" stop-color="#d6d050"/>
 </linearGradient>
 <linearGradient id="lab" x1="0" x2="0" y1="0" y2="1">
  <stop offset="0" stop-color="#d2d5d1"/><stop offset="1" stop-color="#c8cbc7"/>
 </linearGradient>
</defs>
<rect x="321.2" y="212.4" width="168.2" height="108.6" fill="url(#bg)"/>
<rect x="321.2" y="212.4" width="168.2" height="39.4" fill="url(#rul)"/>
<path d="M326 213v4M331 213v3M336 213v3M341 213v4M346 213v3M351 213v3M356 213v4M361 213v3M366 213v3M371 213v4M376 213v3M381 213v3M386 213v4M391 213v3M396 213v3M401 213v4M406 213v3M411 213v3M416 213v4M421 213v3M426 213v3" stroke="#7e726c" stroke-width="0.8"/>
<path d="M431 213v5M434 213v3M437 213v3M440 213v3M443 213v3M446 213v5M449 213v3M452 213v3M455 213v3M458 213v3M461 213v5M464 213v3M467 213v3M470 213v3M473 213v3M476 213v5M479 213v3M482 213v3M485 213v3M488 213v3" stroke="#c4beba" stroke-width="0.7"/>
<g font-family="Liberation Sans, Arial, sans-serif" font-size="13" fill="#221e1c" text-anchor="middle">
 <text x="344" y="235">1</text><text x="370.8" y="236">2</text><text x="397.5" y="236">3</text>
 <text x="423" y="236">4</text><text x="451" y="236" fill="#8a2a2c">5</text><text x="479" y="235.5">6</text>
</g>
<rect x="321.2" y="251.8" width="168.2" height="66" fill="#d3d5d0"/>
<rect x="359" y="251.8" width="11" height="66" fill="#dadcd7"/>
<rect x="401" y="251.8" width="11" height="66" fill="#dadcd7"/>
<rect x="442.5" y="251.8" width="12" height="66" fill="#dadcd7"/>
<rect x="362.5" y="251.8" width="5" height="66" fill="#e6e8e4"/>
<rect x="404" y="251.8" width="5" height="66" fill="#e6e8e4"/>
<rect x="446" y="251.8" width="6" height="66" fill="#e8eae6"/>
<!-- vials -->
<rect x="328.9" y="237.6" width="28.7" height="80" fill="url(#vA)"/>
<rect x="328.9" y="237.6" width="28.7" height="14" fill="url(#vAt)"/>
<rect x="371.6" y="238.5" width="27.9" height="79" fill="url(#vB)"/>
<rect x="413.2" y="235.8" width="28" height="81.5" fill="url(#vC)"/>
<rect x="455.2" y="235.8" width="30.2" height="81.5" fill="url(#vD)"/>
<!-- label areas -->
<rect x="329.5" y="302" width="27.5" height="15.5" fill="url(#lab)"/>
<rect x="372" y="303.4" width="27" height="14" fill="url(#lab)"/>
<rect x="413.6" y="303.6" width="27.2" height="13.5" fill="url(#lab)"/>
<rect x="455.6" y="303.2" width="29.4" height="13.8" fill="url(#lab)"/>
<rect x="321.2" y="317.5" width="168.2" height="3.5" fill="#c3c6c2"/>
<g font-family="Liberation Serif, Times New Roman, serif" font-size="15.5" fill="#c83442" text-anchor="middle">
 <text x="343.2" y="317">A</text><text x="386.6" y="317">B</text><text x="426.5" y="317">C</text><text x="467.8" y="317">D</text>
</g>
</g>

<path d="M105.8 199.9H491.5" stroke="#e8141c" stroke-width="2.4" stroke-dasharray="8.7 7.74"/>
<rect x="100.2" y="40" width="3.6" height="272" fill="#d06a6a"/>
<path d="M100.4 40V312 M103.6 40V312" stroke="#b02a2a" stroke-width="1"/>
<path d="M99.9 56L100 40.5L102 37.5L104 39.5L104.2 56Z" fill="#f00"/>
<rect x="94.8" y="28.0" width="401.5" height="299.0" fill="none" stroke="#000" stroke-width="2"/>
<rect x="608.8" y="25.0" width="402.0" height="300.7" fill="none" stroke="#000" stroke-width="2"/>
<path d="M609.9 306.2H1000.5" stroke="#000" stroke-width="2.2" stroke-dasharray="9 9.45"/>
<polyline points="651.6,325.5 651.9,324.5 652.2,324.0 652.5,323.2 652.8,321.4 653.1,321.0 653.5,320.0 653.8,319.0 654.2,318.1 654.6,317.0 655.1,316.6 655.5,315.4 656.0,314.5 656.5,313.9 657.0,312.9 657.5,311.9 658.1,311.1 658.6,310.6 659.2,309.5 659.8,308.5 660.4,307.6 661.1,307.0 661.8,306.1 662.6,305.8 663.4,305.2 664.2,304.1 665.1,304.2 666.0,303.9 666.9,303.3 667.8,302.6 668.7,302.8 669.6,302.0 670.6,301.4 671.5,301.0 672.4,300.9 673.2,300.7 674.1,300.2 675.0,299.5 675.8,298.6 676.7,298.3 677.6,297.7 678.4,297.4 679.3,296.4 680.1,296.4 681.0,296.0 681.8,295.2 682.6,294.7 683.4,293.8 684.1,293.0 684.9,292.6 685.7,292.4 686.4,291.7 687.2,290.7 687.9,290.4 688.5,289.3 689.2,289.0 689.8,288.0 690.4,286.9 691.0,286.4 691.6,285.2 692.1,284.4 692.7,283.4 693.3,283.0 693.9,282.1 694.4,281.3 695.0,280.4 695.6,280.0 696.1,278.7 696.7,277.8 697.2,277.5 697.8,276.7 698.4,275.6 698.9,274.3 699.5,273.7 700.1,273.2 700.7,272.3 701.2,271.8 701.8,270.3 702.4,270.0 702.9,268.8 703.5,268.4 704.0,267.2 704.5,266.7 705.1,265.4 705.6,264.4 706.1,263.6 706.7,262.9 707.3,262.0 707.8,261.7 708.4,261.0 709.0,259.9 709.6,258.7 710.2,258.2 710.8,257.2 711.4,257.0 712.0,255.9 712.7,255.2 713.3,254.2 713.9,253.0 714.6,252.5 715.2,251.7 715.9,251.3 716.6,250.5 717.2,249.6 717.9,248.9 718.6,248.7 719.3,247.3 720.0,246.6 720.7,246.0 721.3,245.2 722.0,244.5 722.6,244.0 723.3,243.5 724.0,241.9 724.6,241.6 725.3,240.9 725.9,240.1 726.6,239.3 727.3,238.5 727.9,238.1 728.6,237.0 729.2,236.3 729.9,235.6 730.6,234.9 731.2,234.1 731.9,233.6 732.6,232.7 733.3,232.0 734.0,231.2 734.8,230.3 735.5,229.7 736.3,229.0 737.0,228.6 737.8,227.8 738.5,227.0 739.3,226.7 740.1,226.2 740.9,225.0 741.7,225.3 742.5,224.3 743.3,223.6 744.1,223.4 744.9,222.5 745.8,221.8 746.6,221.9 747.4,220.5 748.2,220.2 749.0,219.8 749.8,218.7 750.6,218.4 751.4,217.9 752.2,217.8 753.0,216.4 753.8,216.0 754.6,215.6 755.4,214.8 756.2,213.9 757.0,213.7 757.8,213.1 758.7,212.7 759.5,212.3 760.4,211.9 761.3,211.3 762.3,210.9 763.2,210.2 764.1,210.0 765.0,209.7 766.0,209.2 766.9,209.0 767.8,208.4 768.7,208.6 769.7,208.4 770.6,207.4 771.5,207.2 772.5,206.7 773.4,206.7 774.3,206.1 775.2,205.6 776.2,205.2 777.1,204.9 778.1,204.3 779.0,204.4 780.0,203.8 780.9,203.8 781.9,203.4 782.8,203.3 783.8,202.8 784.7,202.8 785.7,202.0 786.7,202.1 787.6,201.6 788.6,201.4 789.5,201.1 790.5,201.0 791.5,200.0 792.4,200.3 793.4,199.6 794.3,200.0 795.3,198.9 796.3,198.9 797.2,198.4 798.2,199.0 799.1,198.0 800.1,198.0 801.1,197.6 802.0,197.0 803.0,197.2 804.0,197.2 804.9,196.7 805.9,196.7 806.9,196.2 807.8,196.0 808.8,195.7 809.8,195.6 810.8,195.7 811.7,195.1 812.7,194.8 813.7,194.4 814.6,194.1 815.6,194.4 816.6,193.5 817.5,193.3 818.5,193.3 819.5,192.9 820.4,193.3 821.4,192.0 822.4,192.5 823.4,192.4 824.4,191.8 825.4,191.8 826.4,192.0 827.3,192.2 828.3,191.4 829.3,191.1 830.3,191.7 831.3,191.7 832.3,191.2 833.3,190.6 834.3,191.4 835.3,190.9 836.3,191.1 837.3,190.7 838.3,190.6 839.3,190.4 840.3,190.8 841.3,190.7 842.3,189.7 843.3,189.9 844.3,190.5 845.3,189.9 846.3,189.6 847.3,189.9 848.3,189.8 849.3,189.7 850.3,189.6 851.2,189.6 852.2,189.5 853.2,189.7 854.2,189.4 855.2,189.5 856.2,189.5 857.2,189.8 858.2,189.5 859.2,189.4 860.2,189.5 861.2,189.4 862.2,189.6 863.2,189.4 864.2,189.7 865.2,189.5 866.2,189.1 867.2,189.0 868.2,189.3 869.2,189.1 870.2,188.9 871.2,188.5 872.2,188.3 873.2,188.8 874.2,188.8 875.2,188.7 876.2,188.1 877.2,188.5 878.2,188.0 879.2,188.2 880.2,188.1 881.2,187.7 882.2,187.6 883.2,187.2 884.2,187.4 885.2,187.0 886.2,187.5 887.2,187.3 888.1,187.4 889.1,187.2 890.1,186.8 891.1,186.9 892.1,186.6 893.1,186.8 894.1,186.6 895.1,186.1 896.1,186.3 897.1,186.2 898.1,186.0 899.1,186.1 900.1,186.2 901.1,185.6 902.1,185.5 903.0,184.9 904.0,185.3 905.0,185.1 906.0,184.5 907.0,185.0 908.0,185.0 909.0,184.5 910.0,184.5 911.0,184.2 912.0,184.6 913.0,183.9 914.0,184.1 915.0,184.5 916.0,183.9 916.9,183.9 917.9,183.7 918.9,183.3 919.9,183.5 920.9,183.4 921.9,183.0 922.9,183.2 923.9,183.3 924.9,183.2 925.9,182.4 926.9,182.4 927.9,182.1 928.9,182.7 929.9,182.5 930.9,182.4 931.8,181.8 932.8,181.6 933.8,181.8 934.8,181.7 935.8,181.3 936.8,181.4 937.8,181.4 938.8,181.2 939.8,180.8 940.8,180.3 941.8,180.7 942.7,180.6 943.7,180.4 944.7,180.2 945.7,180.0 946.7,180.2 947.7,179.9 948.7,179.8 949.7,179.3 950.7,179.3 951.7,179.3 952.6,178.9 953.6,178.7 954.6,178.7 955.6,179.0 956.6,178.5 957.6,178.6 958.5,178.0 959.5,177.7 960.5,177.1 961.4,177.1 962.4,177.3 963.3,176.7 964.3,176.6 965.2,176.2 966.2,175.7 967.1,175.3 968.0,175.0 968.8,174.6 969.7,174.0 970.5,173.5 971.3,172.8 972.1,172.0 972.8,171.5 973.6,170.6 974.3,170.4 974.9,168.9 975.5,168.6 976.1,168.4 976.7,166.9 977.2,165.9 977.8,165.4 978.3,164.9 978.9,163.7 979.4,163.0 980.0,162.1 980.6,161.1 981.1,161.2 981.7,159.6 982.3,158.6 982.9,157.8 983.5,157.2 984.1,156.5 984.7,155.7 985.3,154.8 985.9,153.6 986.4,153.3 987.0,152.2 987.5,151.4 988.0,150.2 988.5,149.6 989.0,148.6 989.4,147.9 989.8,146.7 990.3,146.1 990.7,145.3 991.1,144.0 991.6,143.3 992.0,142.3 992.4,141.8 992.8,140.1 993.2,139.7 993.6,138.4 993.9,137.8 994.3,137.2 994.6,135.9 995.0,135.1 995.3,134.0 995.6,133.7 996.0,132.5 996.3,131.6 996.7,130.1 997.0,129.2 997.3,128.8 997.6,127.5 997.9,126.5 998.2,125.7 998.5,124.4 998.8,123.9 999.1,122.8 999.3,121.9 999.6,120.7 999.9,120.0 1000.2,118.8 1000.4,118.2 1000.7,117.3 1001.0,116.3 1001.3,115.3 1001.5,114.4 1001.8,112.6 1002.1,112.4" fill="none" stroke="#000" stroke-width="2" stroke-linejoin="round"/>
<polyline points="642.0,325.7 642.2,324.4 642.4,323.4 642.5,322.8 642.7,321.4 642.9,320.3 643.2,319.8 643.4,318.8 643.7,318.0 644.1,316.5 644.5,316.2 645.0,315.2 645.5,314.7 646.1,313.2 646.8,312.8 647.5,312.0 648.2,311.1 649.0,310.7 649.8,310.5 650.6,309.5 651.4,308.9 652.2,308.7 653.1,308.2 653.9,307.6 654.7,306.6 655.5,306.2 656.4,305.9 657.2,304.9 658.0,304.4 658.9,304.3 659.8,304.0 660.7,303.0 661.6,302.3 662.6,302.3 663.5,302.1 664.5,302.1 665.5,302.0 666.4,301.6 667.4,301.2 668.3,301.1 669.3,300.5 670.2,300.4 671.2,300.0 672.1,300.4 673.0,299.6 674.0,298.8 674.9,298.4 675.8,298.2 676.8,297.5 677.7,297.4 678.6,297.0 679.6,297.0 680.5,296.3 681.4,295.9 682.3,295.4 683.3,295.0 684.2,294.9 685.1,294.5 686.0,294.5 686.9,293.6 687.8,293.6 688.7,292.9 689.6,292.4 690.4,291.4 691.3,291.0 692.1,291.0 692.9,290.5 693.7,289.6 694.5,289.1 695.2,288.2 696.0,287.5 696.7,286.8 697.4,286.5 698.2,285.7 698.9,284.8 699.6,284.1 700.3,283.7 701.1,282.9 701.8,281.9 702.4,281.8 703.1,280.7 703.8,279.9 704.4,279.5 705.1,278.6 705.7,277.6 706.4,277.0 707.0,275.8 707.7,275.2 708.3,274.0 709.0,274.1 709.7,272.6 710.3,272.5 711.0,271.4 711.7,270.6 712.3,270.0 713.0,269.4 713.6,268.7 714.2,268.2 714.8,267.1 715.4,266.4 716.0,265.2 716.6,264.8 717.3,263.8 717.9,262.9 718.5,262.2 719.1,261.4 719.7,260.7 720.3,259.9 720.9,258.9 721.5,258.1 722.1,257.7 722.8,256.3 723.4,255.7 724.0,255.5 724.6,253.7 725.3,253.4 725.9,253.0 726.5,251.6 727.2,251.9 727.9,249.9 728.5,250.1 729.2,249.4 729.9,248.5 730.6,247.5 731.2,246.9 731.9,245.9 732.6,245.6 733.3,244.4 734.0,243.9 734.7,243.5 735.4,242.3 736.1,241.8 736.8,241.2 737.6,240.1 738.3,240.0 739.0,239.1 739.6,237.9 740.3,237.6 741.0,236.7 741.7,236.0 742.4,235.4 743.1,234.5 743.8,234.2 744.5,233.1 745.3,232.9 746.0,232.0 746.8,231.6 747.6,230.6 748.4,230.1 749.3,229.4 750.1,229.2 750.9,228.8 751.8,228.5 752.6,227.8 753.4,226.9 754.3,226.3 755.1,225.9 755.9,225.2 756.7,225.0 757.5,224.3 758.4,223.2 759.2,222.7 760.0,222.6 760.8,221.8 761.6,221.1 762.4,220.8 763.2,219.9 764.0,219.3 764.9,218.7 765.7,217.7 766.5,217.8 767.3,216.7 768.1,216.3 768.9,215.7 769.7,215.5 770.6,214.7 771.4,214.1 772.2,213.2 773.0,213.0 773.9,212.2 774.8,212.1 775.6,211.7 776.6,211.2 777.5,211.4 778.4,210.6 779.3,210.3 780.3,209.8 781.2,209.4 782.1,209.3 783.1,209.0 784.0,208.0 785.0,208.3 785.9,207.8 786.8,207.5 787.8,207.0 788.7,206.3 789.6,205.9 790.6,206.3 791.5,205.5 792.4,204.8 793.3,204.8 794.3,204.3 795.2,203.5 796.1,203.0 797.0,202.8 798.0,202.9 798.9,202.4 799.8,202.1 800.8,201.9 801.7,201.7 802.7,200.8 803.7,201.0 804.6,200.6 805.6,200.3 806.6,200.2 807.6,200.1 808.5,199.8 809.5,199.3 810.5,199.3 811.5,199.7 812.4,198.7 813.4,198.4 814.4,198.6 815.4,198.5 816.3,198.2 817.3,197.6 818.3,197.9 819.2,197.2 820.2,196.9 821.2,196.8 822.2,196.7 823.2,196.7 824.1,196.5 825.1,196.2 826.1,196.2 827.1,195.8 828.1,195.9 829.0,195.1 830.0,194.9 831.0,195.3 832.0,194.6 833.0,194.7 834.0,194.5 835.0,194.2 835.9,194.1 836.9,194.4 837.9,193.2 838.9,193.9 839.9,194.0 840.9,193.3 841.8,193.1 842.8,193.1 843.8,193.2 844.8,192.3 845.8,192.5 846.8,192.3 847.8,192.3 848.8,192.1 849.8,192.2 850.7,191.8 851.7,191.8 852.7,191.5 853.7,191.4 854.7,191.4 855.7,191.3 856.7,191.0 857.7,191.6 858.7,191.0 859.7,190.6 860.7,191.1 861.7,190.6 862.7,190.8 863.7,190.6 864.7,190.5 865.7,190.4 866.7,190.1 867.7,190.2 868.7,190.6 869.6,189.4 870.6,189.9 871.6,189.9 872.6,189.4 873.6,189.2 874.6,190.0 875.6,189.2 876.6,189.7 877.6,189.2 878.6,189.0 879.6,188.9 880.6,188.8 881.6,188.8 882.6,188.5 883.5,188.3 884.5,188.2 885.5,188.3 886.5,188.1 887.5,187.5 888.5,187.4 889.5,187.6 890.5,187.2 891.5,187.1 892.5,186.9 893.5,186.9 894.5,187.0 895.4,187.0 896.4,186.6 897.4,187.0 898.4,186.4 899.4,187.1 900.4,186.4 901.4,186.2 902.4,185.8 903.4,185.1 904.4,185.6 905.4,185.6 906.4,185.9 907.4,185.0 908.4,185.7 909.3,185.0 910.3,185.1 911.3,184.2 912.3,184.7 913.3,184.5 914.3,184.6 915.3,184.4 916.3,183.9 917.3,184.3 918.3,184.1 919.3,184.0 920.3,184.0 921.3,183.9 922.2,183.5 923.2,183.0 924.2,182.9 925.2,183.4 926.2,183.2 927.2,182.9 928.2,182.6 929.2,182.6 930.2,182.5 931.2,182.3 932.2,182.1 933.2,182.7 934.2,182.1 935.1,181.7 936.1,181.4 937.1,181.5 938.1,181.7 939.1,181.6 940.1,181.2 941.1,181.1 942.1,180.9 943.1,180.6 944.1,181.0 945.1,180.6 946.0,181.0 947.0,180.1 948.0,180.1 949.0,180.2 950.0,179.8 951.0,179.3 952.0,179.3 953.0,179.4 954.0,179.3 955.0,179.1 955.9,179.2 956.9,179.1 957.9,178.7 958.9,178.5 959.9,178.3 960.9,178.4 961.9,178.3 962.9,178.0 963.9,177.9 964.8,177.6 965.8,177.1 966.8,177.1 967.8,177.3 968.7,176.9 969.6,176.9 970.5,176.1 971.4,175.8 972.2,175.4 973.1,174.8 973.9,173.8 974.7,173.4 975.6,172.9 976.4,172.1 977.3,171.9 978.1,171.5 978.9,170.6 979.8,170.6 980.6,169.5 981.4,168.9 982.1,168.3 982.9,167.5 983.6,167.1 984.3,166.3 985.0,166.0 985.7,165.0 986.4,164.3 987.1,163.4 987.8,162.4 988.5,162.0 989.3,161.1 990.0,160.9 990.7,159.9 991.4,159.6 992.1,158.7 992.8,158.0 993.5,157.1 994.1,156.4 994.8,155.8 995.5,155.1 996.1,153.9 996.8,153.4 997.4,153.2 998.1,151.8 998.7,151.0 999.3,150.2 999.9,149.2 1000.6,149.1" fill="none" stroke="#1a1ab4" stroke-width="2" stroke-linejoin="round"/>
<polyline points="629.3,326.0 629.8,324.1 630.2,324.0 630.6,322.5 631.0,321.5 631.5,321.0 632.0,320.0 632.5,318.9 633.0,317.9 633.6,317.3 634.2,317.4 634.8,316.8 635.5,315.6 636.2,315.1 637.0,313.9 637.7,313.4 638.5,312.9 639.3,311.8 640.1,311.3 640.9,311.1 641.8,310.4 642.6,309.6 643.4,309.6 644.3,308.8 645.1,308.7 646.0,307.8 646.8,307.2 647.6,306.8 648.4,306.1 649.2,305.3 650.0,304.8 650.7,304.5 651.4,303.8 652.1,303.3 652.7,301.5 653.3,301.1 653.9,300.3 654.5,299.7 655.0,298.7 655.5,297.8 655.9,297.3 656.4,296.2 656.8,294.9 657.2,294.8 657.5,293.8 657.9,292.3 658.2,291.8 658.6,290.4 658.9,290.1 659.3,288.7 659.6,287.5 659.9,286.7 660.3,285.6 660.6,285.0 660.9,284.1 661.3,283.1 661.6,282.0 662.0,279.9 662.4,280.3 662.7,278.7 663.1,278.5 663.5,277.9 663.9,276.7 664.2,275.5 664.6,274.7 665.0,273.8 665.3,272.7 665.7,271.7 666.0,270.7 666.4,270.5 666.7,269.1 667.0,268.5 667.3,267.1 667.7,266.3 668.0,265.3 668.3,264.5 668.6,263.7 669.0,262.6 669.3,261.3 669.6,260.3 669.9,260.2 670.2,258.6 670.5,257.6 670.8,257.3 671.1,256.2 671.4,255.1 671.7,253.8 672.0,253.8 672.3,252.2 672.6,251.2 672.9,250.0 673.2,248.6 673.5,247.7 673.8,247.4 674.0,246.4 674.3,245.2 674.6,243.9 674.8,242.9 675.1,242.3 675.4,240.9 675.6,240.8 675.9,239.9 676.2,239.5 676.4,237.9 676.7,236.4 676.9,235.3 677.2,233.5 677.5,233.5 677.7,232.7 678.0,232.1 678.2,231.0 678.5,230.1 678.7,229.0 679.0,228.1 679.2,227.4 679.4,225.6 679.7,224.8 679.9,223.5 680.1,223.6 680.3,222.5 680.6,221.4 680.8,219.7 681.0,219.2 681.2,218.1 681.5,217.2 681.7,216.2 681.9,215.4 682.2,214.1 682.4,213.6 682.7,212.4 682.9,211.3 683.2,210.4 683.4,209.3 683.7,208.8 684.0,207.4 684.2,206.7 684.5,205.5 684.8,204.1 685.1,204.0 685.4,202.4 685.7,202.0 686.0,201.0 686.4,199.3 686.7,198.6 687.0,197.8 687.3,196.8 687.7,195.7 688.0,195.4 688.3,194.1 688.6,193.4 689.0,192.2 689.3,191.5 689.7,190.2 690.0,189.5 690.3,188.8 690.7,187.6 691.0,186.5 691.4,185.4 691.7,184.9 692.1,184.0 692.4,182.9 692.8,181.7 693.1,181.3 693.4,181.0 693.8,179.1 694.1,178.4 694.4,177.4 694.7,175.4 695.0,175.4 695.2,174.2 695.5,173.9 695.8,172.4 696.0,171.2 696.3,170.5 696.6,169.7 696.9,168.5 697.2,167.7 697.6,166.3 698.0,165.8 698.4,165.2 698.8,164.7 699.2,163.4 699.6,162.3 700.1,161.8 700.5,160.8 700.9,160.1 701.4,159.0 701.9,157.7 702.4,157.0 702.9,156.1 703.4,155.3 704.0,154.5 704.5,153.3 705.1,152.0 705.7,151.7 706.3,150.4 706.9,150.3 707.5,149.5 708.1,148.2 708.7,148.2 709.4,147.5 710.0,146.5 710.7,146.3 711.3,145.6 712.0,143.8 712.7,143.9 713.4,143.0 714.2,142.3 714.9,141.8 715.6,140.5 716.4,139.9 717.2,139.2 717.9,138.6 718.7,138.2 719.5,137.1 720.2,136.6 721.0,136.5 721.8,135.7 722.6,135.2 723.4,133.8 724.2,133.6 725.0,133.1 725.8,132.7 726.6,131.9 727.4,131.8 728.2,130.9 729.0,130.3 729.9,129.8 730.7,129.5 731.5,128.6 732.4,128.6 733.3,127.9 734.2,127.4 735.1,126.9 736.0,126.6 736.9,126.4 737.8,125.9 738.7,125.3 739.6,125.1 740.5,124.4 741.4,124.4 742.3,123.5 743.2,122.4 744.2,123.2 745.1,122.4 746.0,121.6 746.9,121.5 747.9,120.9 748.8,121.6 749.7,120.7 750.7,119.7 751.6,120.1 752.6,119.5 753.6,120.1 754.5,118.7 755.5,118.1 756.4,118.6 757.4,118.2 758.4,118.0 759.4,117.2 760.3,117.9 761.3,118.1 762.3,116.7 763.3,117.7 764.3,116.9 765.3,117.8 766.3,117.0 767.3,116.7 768.3,117.0 769.2,116.6 770.2,116.0 771.2,116.3 772.2,115.7 773.2,115.0 774.1,116.2 775.1,115.1 776.1,114.8 777.1,114.9 778.1,114.1 779.0,113.9 780.0,114.0 781.0,113.8 782.0,113.8 783.0,114.0 783.9,113.3 784.9,113.4 785.9,113.3 786.9,112.5 787.9,112.8 788.9,112.2 789.8,112.7 790.8,112.3 791.8,112.0 792.8,111.4 793.8,111.7 794.8,111.2 795.7,111.6 796.7,111.1 797.7,110.7 798.7,111.1 799.7,110.9 800.7,110.3 801.7,110.8 802.7,110.1 803.7,110.0 804.6,110.0 805.6,109.6 806.6,109.5 807.6,109.5 808.6,110.0 809.6,109.8 810.6,109.1 811.6,109.6 812.6,108.9 813.6,108.9 814.6,108.9 815.5,108.6 816.5,109.2 817.5,108.3 818.5,107.7 819.5,108.4 820.5,107.7 821.5,107.6 822.5,106.5 823.5,107.8 824.5,107.6 825.5,107.5 826.4,107.4 827.4,107.5 828.4,106.8 829.4,107.0 830.4,106.3 831.4,106.3 832.4,106.6 833.4,106.3 834.4,105.5 835.4,105.9 836.3,105.6 837.3,105.2 838.3,105.4 839.3,105.0 840.3,104.4 841.3,104.3 842.2,105.1 843.2,103.8 844.2,104.2 845.2,104.2 846.2,104.0 847.2,103.2 848.1,103.4 849.1,103.4 850.1,103.6 851.1,103.0 852.1,102.7 853.1,103.4 854.1,103.4 855.1,103.1 856.1,102.6 857.1,102.9 858.1,102.8 859.1,103.0 860.1,102.2 861.1,102.6 862.1,102.4 863.1,102.0 864.1,102.4 865.1,102.3 866.1,102.1 867.1,102.4 868.1,101.8 869.1,102.2 870.1,102.4 871.1,102.3 872.1,102.6 873.1,101.8 874.1,101.7 875.1,102.3 876.1,102.4 877.1,103.0 878.1,102.4 879.1,101.9 880.1,102.4 881.1,101.8 882.1,101.5 883.1,102.8 884.1,101.9 885.1,102.0 886.1,101.8 887.0,102.2 888.0,101.5 889.0,101.8 890.0,100.8 891.0,100.6 892.0,101.4 893.0,101.3 894.0,100.8 895.0,100.6 896.0,100.4 896.9,99.9 897.9,100.6 898.9,100.1 899.9,99.9 900.9,99.7 901.9,99.8 902.9,99.5 903.9,99.5 904.9,98.7 905.9,99.2 906.9,99.7 907.9,98.7 908.9,98.7 909.9,99.0 910.9,99.0 911.8,98.8 912.8,97.9 913.8,98.6 914.8,98.0 915.8,98.1 916.8,98.6 917.8,98.3 918.8,98.7 919.8,99.5 920.8,98.7 921.8,98.7 922.8,98.2 923.8,98.3 924.8,98.1 925.8,98.3 926.8,98.1 927.8,98.3 928.8,98.4 929.8,98.0 930.8,97.8 931.8,97.7 932.7,98.1 933.7,97.8 934.6,97.8 935.5,97.5 936.4,96.6 937.2,96.5 938.1,95.2 938.9,96.0 939.8,95.1 940.6,94.0 941.4,93.1 942.3,93.1 943.1,91.7 943.9,91.5 944.7,91.5 945.5,90.6 946.2,89.8 947.0,89.7 947.8,88.3 948.5,88.1 949.3,87.2 950.0,86.4 950.7,86.1 951.3,84.9 952.0,85.2 952.7,83.5 953.4,83.7 954.0,81.9 954.7,81.7 955.3,80.3 955.9,79.5 956.5,79.2 957.1,78.5 957.6,77.0 958.1,77.1 958.7,75.5 959.2,75.0 959.7,74.2 960.2,73.4 960.7,71.7 961.2,72.0 961.7,70.8 962.1,69.6 962.6,68.5 963.0,67.3 963.4,66.5 963.8,66.3 964.1,65.0 964.5,63.8 964.9,63.1 965.2,62.9 965.6,61.3 965.9,60.3 966.3,60.0 966.7,58.8 967.0,57.7 967.4,56.5 967.7,55.3 968.0,54.5 968.3,53.8 968.7,52.9 968.9,52.1 969.2,51.3 969.5,50.2 969.7,49.2 970.0,47.8 970.2,46.4 970.5,46.0 970.7,44.9 970.9,44.1 971.2,43.2 971.4,41.9 971.7,41.0 971.9,40.4 972.1,39.5 972.3,38.2 972.5,37.6 972.7,36.4 972.9,35.2 973.1,34.5 973.3,34.2 973.5,32.3 973.7,32.0 973.9,31.1 974.0,30.2 974.2,28.4 974.4,28.5 974.6,26.8 974.7,25.7 974.9,24.7" fill="none" stroke="#c21a2a" stroke-width="2" stroke-linejoin="round"/>
<g font-family="Liberation Serif, Times New Roman, serif" font-weight="bold" font-size="17" fill="#000">
<text x="85.5" y="317.9" text-anchor="end">0.0</text>
<text x="599.5" y="311.1" text-anchor="end">0.0</text>
<text x="85.5" y="260.9" text-anchor="end">0.2</text>
<text x="599.5" y="255.0" text-anchor="end">0.2</text>
<text x="85.5" y="203.9" text-anchor="end">0.4</text>
<text x="599.5" y="198.9" text-anchor="end">0.4</text>
<text x="85.5" y="146.9" text-anchor="end">0.6</text>
<text x="599.5" y="142.7" text-anchor="end">0.6</text>
<text x="85.5" y="89.9" text-anchor="end">0.8</text>
<text x="599.5" y="86.6" text-anchor="end">0.8</text>
<text x="85.5" y="32.9" text-anchor="end">1.0</text>
<text x="599.5" y="30.5" text-anchor="end">1.0</text>
<text x="99.6" y="350" text-anchor="middle">0</text>
<text x="176.9" y="350" text-anchor="middle">1500</text>
<text x="254.2" y="350" text-anchor="middle">3000</text>
<text x="331.6" y="350" text-anchor="middle">4500</text>
<text x="408.9" y="350" text-anchor="middle">6000</text>
<text x="486.2" y="350" text-anchor="middle">7500</text>
<text x="644.3" y="349" text-anchor="middle">-0.4</text>
<text x="715.7" y="349" text-anchor="middle">0.0</text>
<text x="787.1" y="349" text-anchor="middle">0.4</text>
<text x="858.5" y="349" text-anchor="middle">0.8</text>
<text x="930.0" y="349" text-anchor="middle">1.2</text>
<text x="1001.4" y="349" text-anchor="middle">1.6</text>
</g>
<g font-family="Liberation Serif, Times New Roman, serif" font-size="23" fill="#000">
<text x="23.8" y="35.4" font-size="22.6">(a)</text>
<text x="537" y="34.1" font-size="22.6">(b)</text>
<text x="276.5" y="385.3">Time (s)</text>
<text x="715" y="384.1">Potential (V <tspan font-style="italic">vs.</tspan> Ag/AgCl)</text>
<text transform="translate(43.8 307) rotate(-90)" font-size="24">Current density (mA cm<tspan dy="-15.5" font-size="11">-2</tspan><tspan dy="13" font-size="19.5">)</tspan></text>
<text transform="translate(555.2 304.5) rotate(-90)" font-size="24">Current density (mA cm<tspan dy="-15.5" font-size="11">-2</tspan><tspan dy="13" font-size="19.5">)</tspan></text>
</g>
<g font-family="Liberation Serif, Times New Roman, serif" font-size="15.3" fill="#000">
<path d="M114.7 262.4H150" stroke="#000" stroke-width="2"/>
<path d="M114.7 286.2H150" stroke="#c8202a" stroke-width="2"/>
<text x="154.3" y="267.4">TiO<tspan font-size="8.8" dy="5.5">2</tspan><tspan dy="-5.5">/CdS</tspan></text>
<text x="154.3" y="291.4">TiO<tspan font-size="8.8" dy="5.5">2</tspan><tspan dy="-5.5">/CdS/Co-Pi</tspan></text>
</g>
<g font-family="Liberation Serif, Times New Roman, serif" font-size="16.8" fill="#000">
<path d="M616.9 39.2H655.3" stroke="#000" stroke-width="2"/>
<path d="M616.9 65H655.3" stroke="#1a1ab4" stroke-width="2"/>
<path d="M616.9 90.4H655.3" stroke="#c8202a" stroke-width="2"/>
<text x="659.2" y="43.8">Pristine TiO<tspan font-size="9.5" dy="6.5">2</tspan></text>
<text x="659.2" y="70">TiO<tspan font-size="9.5" dy="6.5">2</tspan><tspan dy="-6.5">/CdS</tspan></text>
<text x="659.2" y="95.5">TiO<tspan font-size="9.5" dy="6.5">2</tspan><tspan dy="-6.5">/CdS/Co-Pi</tspan></text>
</g>
</svg>
</body></html>
